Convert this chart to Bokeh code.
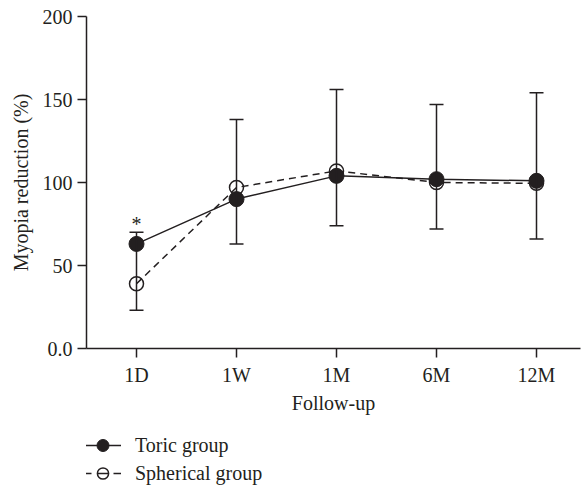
from bokeh.plotting import figure
from bokeh.layouts import column
from bokeh.models import (ColumnDataSource, FixedTicker, Whisker, TeeHead, Legend,
                          LegendItem, Range1d)
from bokeh.core.properties import value
from bokeh.embed import file_html
from bokeh.resources import INLINE

# ---- data ----
followup = ["1D", "1W", "1M", "6M", "12M"]
x_pos = [1, 2, 3, 4, 5]
toric = [63, 90, 104, 102, 101]
spherical = [39, 97, 107, 100, 99.5]
bar_upper = [70, 138, 156, 147, 154]
bar_lower = [23, 63, 74, 72, 66]
y_ticks = [0, 50, 100, 150, 200]
y_tick_labels = ["0.0", "50", "100", "150", "200"]
sig_x = [1]
sig_y = [75]
sig_text = ["*"]
series_names = ["Toric group", "Spherical group"]

INK = "#231f20"
FONT = "Liberation Serif"

p = figure(width=582, height=420, output_backend="svg", toolbar_location=None,
           x_range=Range1d(0.5, 5.44), y_range=Range1d(0, 200),
           min_border_left=86, min_border_right=2, min_border_top=16,
           min_border_bottom=72)
p.outline_line_color = None
p.grid.visible = False
p.background_fill_color = "white"
p.border_fill_color = "white"

for ax in (p.xaxis[0], p.yaxis[0]):
    ax.axis_line_color = INK
    ax.axis_line_width = 1.5
    ax.major_tick_line_color = INK
    ax.major_tick_line_width = 1.5
    ax.major_tick_in = 0
    ax.minor_tick_line_color = None
    ax.major_label_text_font = FONT
    ax.major_label_text_font_size = "20px"
    ax.major_label_text_color = INK
    ax.axis_label_text_font = FONT
    ax.axis_label_text_font_size = "20px"
    ax.axis_label_text_font_style = "normal"
    ax.axis_label_text_color = INK

p.xaxis.ticker = FixedTicker(ticks=x_pos)
p.xaxis.major_label_overrides = {x: lab for x, lab in zip(x_pos, followup)}
p.xaxis.major_tick_out = 9
p.xaxis.major_label_standoff = 6
p.xaxis.axis_label = "Follow-up"
p.xaxis.axis_label_standoff = 3

p.yaxis.ticker = FixedTicker(ticks=y_ticks)
p.yaxis.major_label_overrides = {t: lab for t, lab in zip(y_ticks, y_tick_labels)}
p.yaxis.major_tick_out = 9
p.yaxis.major_label_standoff = 5
p.yaxis.axis_label = "Myopia reduction (%)"
p.yaxis.axis_label_standoff = 8

src = ColumnDataSource(dict(x=x_pos, toric=toric, spherical=spherical,
                            upper=bar_upper, lower=bar_lower))

wh = Whisker(base="x", upper="upper", lower="lower", source=src,
             line_color=INK, line_width=1.5, level="glyph",
             upper_head=TeeHead(size=14, line_color=INK, line_width=1.5),
             lower_head=TeeHead(size=14, line_color=INK, line_width=1.5))
p.add_layout(wh)

s_line_style = dict(line_color=INK, line_width=1.5, line_dash="7 5")
t_line_style = dict(line_color=INK, line_width=1.5)
s_pt_style = dict(marker="circle", fill_alpha=0, line_color=INK, line_width=1.5)
t_pt_style = dict(marker="circle", fill_color=INK, line_color=INK, line_width=1)

p.line("x", "spherical", source=src, **s_line_style)
p.line("x", "toric", source=src, **t_line_style)
p.scatter("x", "spherical", source=src, size=14, **s_pt_style)
p.scatter("x", "toric", source=src, size=15, **t_pt_style)

p.text(x=sig_x, y=sig_y, text=sig_text, text_align="center", text_baseline="middle",
       text_font=value(FONT), text_font_size="20px", text_color=INK)

# ---- legend panel below the chart (its ranges keep the series out of view) ----
q = figure(width=582, height=65, output_backend="svg", toolbar_location=None,
           x_range=Range1d(-20, -10), y_range=Range1d(-20, -10),
           x_axis_type=None, y_axis_type=None,
           min_border_left=0, min_border_right=0, min_border_top=0, min_border_bottom=0)
q.outline_line_color = None
q.grid.visible = False
q.background_fill_color = "white"
q.border_fill_color = "white"

lt = q.line("x", "toric", source=src, **t_line_style)
pt = q.scatter("x", "toric", source=src, **t_pt_style)
ls = q.line("x", "spherical", source=src, line_color=INK, line_width=1.5,
            line_dash="7 6 11 5 8")
ps = q.scatter("x", "spherical", source=src, **s_pt_style)

common = dict(glyph_width=37, label_standoff=14, padding=0, margin=0, spacing=0,
              border_line_color=None, background_fill_alpha=0,
              label_text_font=FONT, label_text_font_size="20px", label_text_color=INK)
leg1 = Legend(items=[LegendItem(label=series_names[0], renderers=[lt, pt])],
              location=(-2, 25), glyph_height=30, **common)
leg2 = Legend(items=[LegendItem(label=series_names[1], renderers=[ls, ps])],
              location=(-2, -2), glyph_height=28, **common)
q.add_layout(leg1)
q.add_layout(leg2)

layout = column(p, q, spacing=0)
open("out.html", "w").write(file_html(layout, INLINE))
